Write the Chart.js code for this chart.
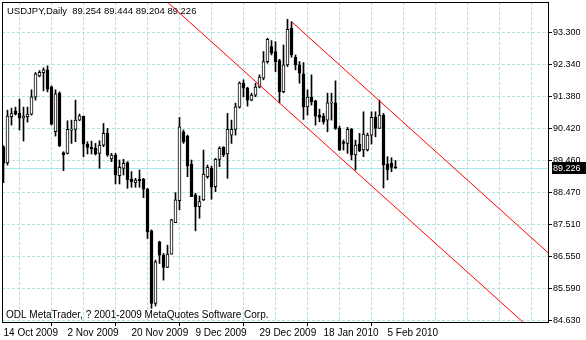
<!DOCTYPE html>
<html>
<head>
<meta charset="utf-8">
<script src="https://cdn.jsdelivr.net/npm/chart.js@4.4.1/dist/chart.umd.min.js"></script>
<style>
html,body{margin:0;padding:0;background:#fff;}
canvas{display:block;}
</style>
</head>
<body>
<canvas id="c" width="586" height="340"></canvas>
<script>
// ---- data ----
const opens  = [89.86,89.37,90.76,90.94,90.87,90.72,90.76,90.84,91.35,91.99,92.09,92.17,91.66,90.31,91.47,89.68,89.66,90.36,90.38,90.66,
                90.78,89.94,89.84,89.81,89.66,89.91,90.26,89.49,89.61,88.99,89.21,89.38,88.88,88.78,88.88,88.88,88.58,87.33,85.15,87.00,
                86.60,86.23,86.63,87.58,88.24,90.31,90.18,89.34,88.41,88.06,88.26,88.96,89.21,88.66,89.48,89.84,89.64,90.21,90.38,91.05,
                91.77,91.62,91.26,91.41,91.65,91.92,92.42,92.87,92.72,92.45,91.51,92.32,93.42,92.55,92.32,92.05,91.06,91.35,91.24,90.81,
                90.78,90.66,91.17,91.18,90.41,90.01,89.96,90.38,89.61,89.94,89.76,89.76,90.21,90.74,90.41,90.81,89.34,89.36,89.254];
const highs  = [89.89,90.96,91.02,91.05,91.29,91.05,91.05,91.57,92.09,92.15,92.23,92.29,91.69,91.57,91.51,89.71,90.64,90.66,91.26,90.84,
                90.78,90.01,90.03,89.96,90.04,90.56,90.41,89.66,89.66,89.46,89.48,89.41,89.11,88.91,89.16,88.91,88.61,87.36,86.45,87.02,
                86.65,86.90,87.68,88.48,90.74,90.36,90.21,89.46,88.46,88.38,89.76,89.31,89.28,89.51,89.86,89.86,90.86,90.66,91.17,91.81,
                91.87,91.65,91.47,91.77,92.02,92.72,93.12,93.05,93.02,92.49,92.92,93.69,93.62,92.62,92.42,92.39,91.57,92.02,91.26,90.99,
                90.86,91.47,91.47,91.84,90.48,90.06,90.44,90.41,90.06,90.26,90.91,90.27,90.91,90.91,91.26,90.86,89.56,89.53,89.444];
const lows   = [88.78,89.31,90.51,90.81,90.36,90.03,90.60,90.81,91.26,91.96,91.54,91.51,90.51,90.18,89.86,89.14,89.64,89.96,90.01,90.64,
                89.56,89.64,89.64,89.61,89.21,89.86,89.57,89.41,88.74,88.74,89.01,88.61,88.64,88.64,88.64,88.33,87.10,85.00,85.07,86.35,
                85.85,86.23,86.63,87.58,87.96,89.96,88.96,88.36,87.33,87.71,88.24,88.91,88.28,88.51,89.26,89.56,88.91,89.96,90.21,91.02,
                91.36,91.08,91.24,91.36,91.63,91.87,92.37,92.62,92.12,91.18,91.48,92.27,92.55,92.17,91.77,90.68,90.81,91.11,90.51,90.61,
                90.54,90.31,90.66,90.38,89.74,89.76,89.66,89.46,89.16,89.71,89.56,89.73,89.94,90.16,90.41,88.62,88.86,89.11,89.204];
const closes = [89.36,90.78,90.86,90.84,90.72,90.78,90.84,91.36,92.05,92.10,92.17,91.59,90.54,91.45,89.89,89.62,90.38,90.39,90.66,90.79,
                89.94,89.84,89.80,89.64,89.91,90.26,89.61,89.61,89.01,89.24,89.36,88.86,88.81,88.86,88.84,88.58,87.30,85.15,86.40,86.60,
                86.23,86.63,87.66,88.26,90.46,90.01,89.28,88.36,88.06,88.21,89.04,89.24,88.64,89.48,89.81,89.61,90.38,90.38,91.06,91.77,
                91.62,91.26,91.41,91.65,91.95,92.42,93.09,92.67,92.42,91.51,92.32,93.39,92.62,92.32,92.07,91.06,91.35,91.21,90.78,90.74,
                90.61,91.18,91.18,90.41,89.76,89.96,90.38,89.61,89.91,89.74,90.24,90.21,90.74,90.41,90.81,89.31,89.16,89.24,89.226];

const xTickBars   = [0, 16, 32, 48, 64, 80, 96];
const xTickLabels = ['14 Oct 2009','2 Nov 2009','20 Nov 2009','9 Dec 2009','29 Dec 2009','18 Jan 2010','5 Feb 2010'];
const yTickLabels = ['93.300','92.340','91.380','90.420','89.460','88.470','87.510','86.550','85.590','84.630'];

const channelUpperBars   = [72, 137];
const channelUpperPrices = [93.62, 86.58];
const channelLowerBars   = [38, 134];
const channelLowerPrices = [94.53, 84.14];

const currentPrice = 89.226;
const titleText = 'USDJPY,Daily  89.254 89.444 89.204 89.226';
const copyrightText = 'ODL MetaTrader, ? 2001-2009 MetaQuotes Software Corp.';

// ---- styles ----
const FONT = '"Liberation Sans", Arial, sans-serif';
const gridColor = '#b0e2e2';
const priceLineColor = '#a8eaea';

const wickData = opens.map((o, i) => ({x: i, y: [lows[i], highs[i]]}));
const bodyData = opens.map((o, i) => ({x: i, y: [Math.min(o, closes[i]), Math.max(o, closes[i])]}));
const bodyColors = opens.map((o, i) => closes[i] >= o ? '#ffffff' : '#000000');

const xGridValues = [0];
for (let v = 8; v <= 136; v += 8) xGridValues.push(v);

const decor = {
  id: 'decor',
  beforeDatasetsDraw(chart) {
    const {ctx, chartArea: a, scales: {y}} = chart;
    ctx.save();
    const py = Math.round(y.getPixelForValue(currentPrice)) + 0.5;
    ctx.strokeStyle = priceLineColor; ctx.lineWidth = 1;
    ctx.beginPath(); ctx.moveTo(a.left, py); ctx.lineTo(a.right, py); ctx.stroke();
    ctx.fillStyle = '#000';
    ctx.textBaseline = 'middle'; ctx.textAlign = 'left';
    ctx.font = '9.5px ' + FONT;
    ctx.fillText(titleText, 7, 11);
    ctx.font = '10px ' + FONT;
    ctx.fillText(copyrightText, 6, 315);
    ctx.restore();
  },
  afterDraw(chart) {
    const {ctx, chartArea: a, scales: {y}} = chart;
    ctx.save();
    ctx.strokeStyle = '#000'; ctx.lineWidth = 1;
    ctx.strokeRect(a.left + 0.5, a.top + 0.5, a.right - a.left, a.bottom - a.top);
    const py = Math.round(y.getPixelForValue(currentPrice));
    ctx.fillStyle = '#000';
    ctx.fillRect(a.right + 4, py - 6, 586 - a.right - 4, 12);
    ctx.fillStyle = '#fff';
    ctx.font = '9px ' + FONT;
    ctx.textBaseline = 'middle'; ctx.textAlign = 'left';
    ctx.fillText(currentPrice.toFixed(3), a.right + 5, py + 0.5);
    ctx.restore();
  }
};

new Chart(document.getElementById('c'), {
  type: 'bar',
  data: {
    datasets: [
      {type: 'line', data: channelUpperBars.map((b, i) => ({x: b, y: channelUpperPrices[i]})),
       borderColor: '#ff0000', borderWidth: 1, pointRadius: 0, order: 0},
      {type: 'line', data: channelLowerBars.map((b, i) => ({x: b, y: channelLowerPrices[i]})),
       borderColor: '#ff0000', borderWidth: 1, pointRadius: 0, order: 0},
      {data: bodyData, backgroundColor: bodyColors, borderColor: '#000', borderWidth: 1,
       borderSkipped: false, barThickness: 3, grouped: false, minBarLength: 1, order: 1},
      {data: wickData, backgroundColor: '#000', borderWidth: 0, barThickness: 1, grouped: false, order: 2}
    ]
  },
  options: {
    responsive: false, animation: false, devicePixelRatio: 1,
    layout: {padding: {left: 2, top: 2, right: 0, bottom: 0}},
    plugins: {legend: {display: false}, tooltip: {enabled: false}, title: {display: false}},
    scales: {
      x: {
        type: 'linear', position: 'bottom', min: -0.375, max: 136.125, offset: false,
        afterBuildTicks: s => { s.ticks = xGridValues.map(v => ({value: v})); },
        afterFit: s => { s.height = 18; s.paddingLeft = 0; s.paddingRight = 0; },
        grid: {
          color: c => (c.tick && c.tick.value === 0) ? 'rgba(0,0,0,0)' : gridColor,
          tickColor: c => (c.tick && xTickBars.includes(c.tick.value)) ? '#000' : 'rgba(0,0,0,0)',
          tickLength: 4, lineWidth: 1
        },
        border: {display: true, color: '#000', dash: [3, 2]},
        ticks: {
          autoSkip: false, maxRotation: 0, minRotation: 0, align: 'start', padding: 1,
          color: '#000', font: {family: FONT, size: 10},
          callback: v => { const k = xTickBars.indexOf(v); return k >= 0 ? xTickLabels[k] : ''; }
        }
      },
      y: {
        type: 'linear', position: 'right', min: 84.59, max: 94.211,
        afterBuildTicks: s => { s.ticks = yTickLabels.map(l => ({value: parseFloat(l)})); },
        afterFit: s => { s.width = 38; s.paddingTop = 0; s.paddingBottom = 0; },
        grid: {color: gridColor, tickColor: '#000', tickLength: 4, lineWidth: 1},
        border: {display: true, color: '#000', dash: [3, 2]},
        ticks: {
          padding: 1, color: '#000', font: {family: FONT, size: 9},
          callback: v => v.toFixed(3)
        }
      }
    }
  },
  plugins: [decor]
});
</script>
</body>
</html>
